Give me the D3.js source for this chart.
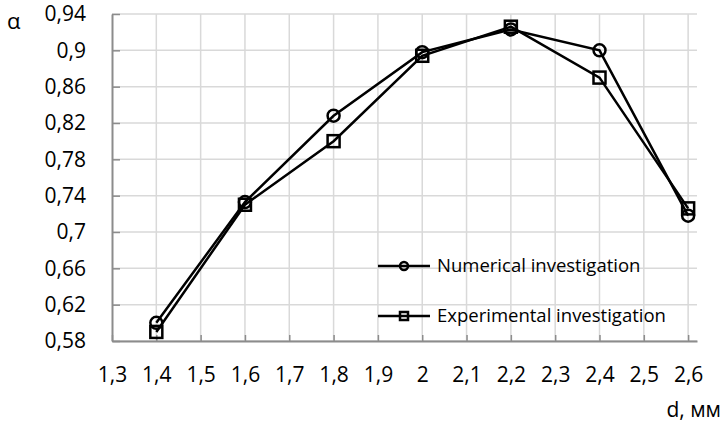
<!DOCTYPE html>
<html>
<head>
<meta charset="utf-8">
<script src="https://cdn.jsdelivr.net/npm/d3@7"></script>
<style>
  body { margin: 0; background: #fff; }
  text { font-family: "Open Sans", "Noto Sans", sans-serif; fill: #000; }
</style>
</head>
<body>
<div id="chart"></div>
<script>
"use strict";

// === DATA ===
const dValues = [1.4, 1.6, 1.8, 2.0, 2.2, 2.4, 2.6];
const numerical = [0.600, 0.733, 0.828, 0.898, 0.923, 0.900, 0.718];
const experimental = [0.590, 0.730, 0.800, 0.894, 0.926, 0.870, 0.726];
const xTicks = [1.3, 1.4, 1.5, 1.6, 1.7, 1.8, 1.9, 2.0, 2.1, 2.2, 2.3, 2.4, 2.5, 2.6];
const yTicks = [0.58, 0.62, 0.66, 0.70, 0.74, 0.78, 0.82, 0.86, 0.90, 0.94];
const seriesNames = ["Numerical investigation", "Experimental investigation"];

const width = 727, height = 424;
const margin = { top: 14, right: 30, bottom: 83, left: 112 };

const svg = d3.select("#chart")
  .append("svg")
  .attr("width", width)
  .attr("height", height);

// === SCALES ===
const x = d3.scaleLinear()
  .domain([1.3, 2.62])
  .range([margin.left, width - margin.right]);

const y = d3.scaleLinear()
  .domain([0.58, 0.94])
  .range([height - margin.bottom, margin.top]);

const fmt = d => String(+d.toFixed(2)).replace(".", ",");

// === GRID ===
svg.append("g")
  .selectAll("line")
  .data(yTicks)
  .join("line")
  .attr("x1", x.range()[0])
  .attr("x2", x.range()[1])
  .attr("y1", d => y(d))
  .attr("y2", d => y(d))
  .attr("stroke", "#d9d9d9")
  .attr("stroke-width", 1.5);

svg.append("g")
  .selectAll("line")
  .data(xTicks.slice(1))
  .join("line")
  .attr("x1", d => x(d))
  .attr("x2", d => x(d))
  .attr("y1", y.range()[0])
  .attr("y2", y.range()[1])
  .attr("stroke", "#d9d9d9")
  .attr("stroke-width", 1.5);

// === AXES ===
const xAxis = d3.axisBottom(x)
  .tickValues(xTicks)
  .tickSizeInner(-6)
  .tickSizeOuter(0)
  .tickPadding(26)
  .tickFormat(fmt);

const yAxis = d3.axisLeft(y)
  .tickValues(yTicks)
  .tickSizeInner(-8)
  .tickSizeOuter(0)
  .tickPadding(26)
  .tickFormat(fmt);

const gx = svg.append("g")
  .attr("transform", `translate(0,${height - margin.bottom})`)
  .call(xAxis);

const gy = svg.append("g")
  .attr("transform", `translate(${margin.left},0)`)
  .call(yAxis);

[gx, gy].forEach(g => {
  g.select(".domain").attr("stroke", "#8c8c8c").attr("stroke-width", 2);
  g.selectAll(".tick line").attr("stroke", "#8c8c8c").attr("stroke-width", 1.5);
  g.selectAll(".tick text").attr("font-size", 21);
});

// === LINES ===
const line = d3.line()
  .x((d, i) => x(dValues[i]))
  .y(d => y(d));

[numerical, experimental].forEach(vals => {
  svg.append("path")
    .datum(vals)
    .attr("d", line)
    .attr("fill", "none")
    .attr("stroke", "#000")
    .attr("stroke-width", 2.5);
});

// === MARKERS ===
svg.append("g")
  .selectAll("circle")
  .data(numerical)
  .join("circle")
  .attr("cx", (d, i) => x(dValues[i]))
  .attr("cy", d => y(d))
  .attr("r", 6)
  .attr("fill", "none")
  .attr("stroke", "#000")
  .attr("stroke-width", 2.5);

svg.append("g")
  .selectAll("rect")
  .data(experimental)
  .join("rect")
  .attr("x", (d, i) => x(dValues[i]) - 6)
  .attr("y", d => y(d) - 6)
  .attr("width", 12)
  .attr("height", 12)
  .attr("fill", "none")
  .attr("stroke", "#000")
  .attr("stroke-width", 2.5);

// === LEGEND ===
const legend = svg.append("g");
const legendY = [266, 316];

seriesNames.forEach((name, i) => {
  const ly = legendY[i];
  legend.append("line")
    .attr("x1", 378).attr("x2", 430)
    .attr("y1", ly).attr("y2", ly)
    .attr("stroke", "#000")
    .attr("stroke-width", 2.5);
  if (i === 0) {
    legend.append("circle")
      .attr("cx", 404).attr("cy", ly).attr("r", 4)
      .attr("fill", "none").attr("stroke", "#000").attr("stroke-width", 2.5);
  } else {
    legend.append("rect")
      .attr("x", 400).attr("y", ly - 4).attr("width", 8).attr("height", 8)
      .attr("fill", "none").attr("stroke", "#000").attr("stroke-width", 2.5);
  }
  legend.append("text")
    .attr("x", 437)
    .attr("y", ly + 6)
    .attr("font-size", 18.5)
    .text(name);
});

// === AXIS TITLES ===
svg.append("text")
  .attr("x", 7)
  .attr("y", 29)
  .attr("font-size", 22)
  .text("α");

svg.append("text")
  .attr("x", 721)
  .attr("y", 417)
  .attr("text-anchor", "end")
  .attr("font-size", 21)
  .text("d, мм");
</script>
</body>
</html>
